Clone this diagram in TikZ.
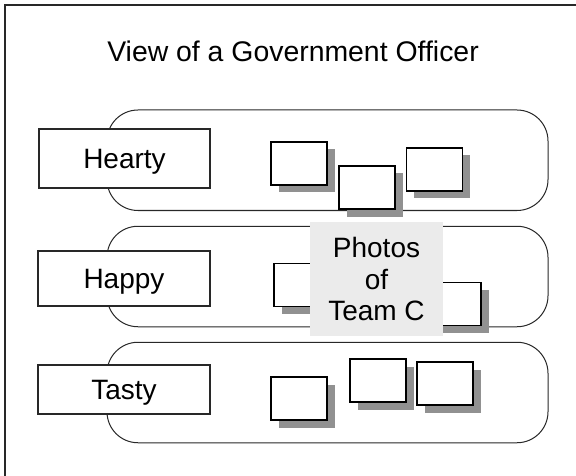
\documentclass[tikz,border=0pt]{standalone}
\usepackage{fontspec}
\setmainfont{Liberation Sans}
\usetikzlibrary{shadows}
\definecolor{shadowgray}{RGB}{145,145,145}
\definecolor{notefill}{RGB}{235,235,235}
\definecolor{rimgray}{RGB}{40,40,40}

\begin{document}
\begin{tikzpicture}[x=1pt,y=-1pt,
  lane/.style={draw=rimgray, line width=1pt, rounded corners=31pt,
    inner sep=0pt, minimum width=441pt, minimum height=100.5pt},
  tag/.style={draw=rimgray, line width=1.2pt, fill=white, inner sep=0pt,
    text height=20pt, text depth=0pt, font=\fontsize{28}{32}\selectfont},
  photo/.style={draw=black, line width=1.4pt, fill=white, inner sep=0pt,
    minimum width=56pt, minimum height=43pt,
    general shadow={fill=shadowgray, shadow xshift=7.5pt, shadow yshift=-7.5pt}},
  note/.style={fill=notefill, inner sep=0pt, minimum width=133pt,
    minimum height=114pt, align=center, font=\fontsize{28}{31.5}\selectfont}]

\useasboundingbox (0,0) rectangle (576,476);
\clip (0,0) rectangle (576,476);
\fill[white] (0,0) rectangle (576,476);

% page frame (runs off the right and bottom edges)
\draw[rimgray, line width=1.5pt] (5,490) -- (5,5) -- (590,5);

% heading
\node[anchor=base, inner sep=0pt, font=\fontsize{28.4}{34}\selectfont] (title) at (293,62)
  {View of a Government Officer};

% the three lanes
\node[lane] (laneA) at (327.5,160.25) {};
\node[lane] (laneB) at (327.5,276.5) {};
\node[lane] (laneC) at (327.5,392.5) {};

% lane tags
\node[tag, minimum width=171pt, minimum height=59pt] (hearty) at (124.5,158.5) {Hearty};
\node[tag, minimum width=172pt, minimum height=55pt] (happy) at (124,278.5) {Happy};
\node[tag, minimum width=172pt, minimum height=49pt] (tasty) at (124,389.5) {Tasty};

% photos, first lane
\node[photo] (a1) at (299,163.5) {};
\node[photo] (a2) at (367,187.5) {};
\node[photo] (a3) at (434.5,169.5) {};

% photos, second lane
\node[photo] (b1) at (302,285) {};
\node[photo] (b2) at (453,304) {};

% photos, third lane
\node[photo] (c1) at (299,398.5) {};
\node[photo] (c2) at (378,380.5) {};
\node[photo] (c3) at (445,383.5) {};

% caption panel over the second lane
\node[note] (caption) at (376.5,279) {Photos\\of\\Team C};

\end{tikzpicture}
\end{document}
